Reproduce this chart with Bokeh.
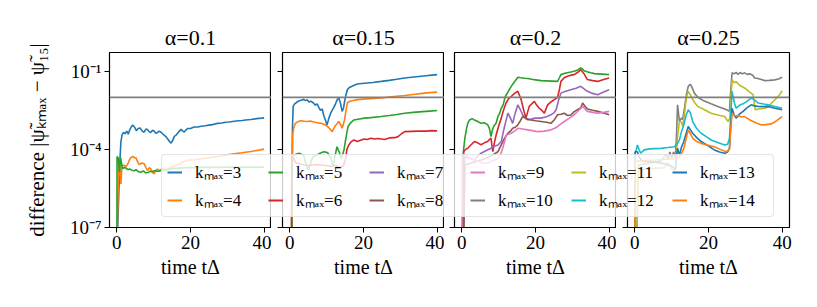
import numpy as np
from bokeh.plotting import figure
from bokeh.models import (Range1d, FixedTicker, Span, Legend, LegendItem,
                          GridBox, CustomJSTickFormatter)
from bokeh.embed import file_html
from bokeh.resources import INLINE

FONT = "Liberation Serif"

alpha_titles = ["α=0.1", "α=0.15", "α=0.2", "α=0.25"]
kmax_values = [3, 4, 5, 6, 7, 8, 9, 10, 11, 12, 13, 14]
kmax_colors = ["#1f77b4", "#ff7f0e", "#2ca02c", "#d62728", "#9467bd", "#8c564b",
               "#e377c2", "#7f7f7f", "#bcbd22", "#17becf", "#1f77b4", "#ff7f0e"]
threshold = 1e-2
x_ticks = [0, 20, 40]
y_ticks = [1e-7, 1e-4, 1e-1]

a1_k3_t = [0, 0.8, 1.1, 1.4, 1.8, 2.2, 2.7, 3.1, 3.5, 4.0, 4.3, 4.8, 5.3, 5.8, 6.3, 6.9, 7.4, 7.9, 8.3,
           8.8, 9.2, 9.7, 10.1, 10.6, 11.0, 11.5, 11.9, 12.4, 12.9, 13.4, 13.8, 14.3, 14.7, 15.2, 15.6,
           16.1, 16.5, 17.0, 17.4, 17.9, 18.3, 18.8, 19.2, 20.0, 21.0, 22.0, 22.9, 24.0, 25.0, 26.0,
           27.4, 28.5, 29.5, 30.5, 31.9, 33.0, 34.0, 35.0, 36.4, 37.5, 38.5, 39.3, 40.0]
a1_k3_log = [-8, -4.5, -3.7, -3.45, -3.35, -3.4, -3.3, -3.42, -3.25, -3.12, -3.06, -3.15, -3.28, -3.2,
             -3.18, -3.3, -3.34, -3.22, -3.24, -3.32, -3.35, -3.27, -3.29, -3.38, -3.36, -3.3, -3.33,
             -3.4, -3.46, -3.52, -3.6, -3.7, -3.76, -3.65, -3.5, -3.45, -3.38, -3.3, -3.23, -3.3, -3.33,
             -3.25, -3.2, -3.2, -3.14, -3.14, -3.11, -3.09, -3.07, -3.05, -3.0, -2.99, -2.96, -2.95,
             -2.92, -2.9, -2.89, -2.87, -2.85, -2.83, -2.81, -2.8, -2.79]
a1_k4_t = [0, 0.5, 0.8, 1.1, 1.4, 1.9, 2.5, 3.0, 3.6, 4.3, 4.8, 5.2, 5.7, 6.1, 6.8, 7.4, 7.9, 8.3, 8.8,
           9.2, 9.7, 10.1, 10.6, 11.0, 11.6, 12.4, 13.2, 13.8, 14.5, 15.2, 16.0, 17.0, 18.0, 19.3,
           21.0, 22.9, 25.0, 27.4, 29.5, 31.9, 34.0, 36.4, 38.0, 40.0]
a1_k4_log = [-8, -4.46, -4.7, -5.33, -4.6, -4.62, -4.65, -4.55, -4.35, -4.27, -4.33, -4.32, -4.5, -4.58,
             -4.52, -4.55, -4.7, -4.81, -4.7, -4.75, -4.88, -4.94, -4.8, -4.76, -4.85, -4.72, -4.8,
             -4.78, -4.68, -4.65, -4.6, -4.56, -4.48, -4.42, -4.4, -4.37, -4.32, -4.27, -4.22, -4.17,
             -4.13, -4.08, -4.04, -3.99]
a1_k5_t = [0, 0.05, 0.4, 0.7, 1.0, 1.3, 1.6, 2.0, 2.5, 3.0, 3.5, 4.0, 4.7, 5.2, 5.8, 6.5, 7.2, 7.8, 8.3,
           9.0, 9.6, 10.2, 11.0, 11.9, 13.0, 14.0, 15.0, 16.5, 18.0, 20.0, 24.0, 28.0, 32.0, 36.0, 40.0]
a1_k5_log = [-8, -4.27, -4.35, -4.88, -4.32, -4.55, -4.74, -4.7, -4.72, -4.78, -4.75, -4.8, -4.82, -4.78,
             -4.85, -4.88, -4.83, -4.9, -4.9, -4.84, -4.86, -4.82, -4.84, -4.8, -4.78, -4.76, -4.74,
             -4.72, -4.71, -4.7, -4.69, -4.69, -4.68, -4.68, -4.68]

a2_k3_t = [0, 0.5, 0.7, 0.9, 1.3, 1.8, 2.3, 2.8, 3.3, 3.7, 4.2, 4.7, 5.2, 5.7, 6.4, 6.9, 7.4, 7.9, 8.3,
           8.8, 9.2, 9.6, 10.1, 10.6, 11.1, 11.5, 11.9, 12.4, 12.9, 13.3, 13.7, 14.2, 14.6, 15.0, 15.6,
           16.2, 17.0, 18.3, 19.5, 21.0, 22.5, 24.8, 27.0, 29.0, 31.2, 33.0, 35.0, 37.0, 38.5, 40.0]
a2_k3_log = [-8, -7, -3.2, -2.35, -2.25, -2.2, -2.15, -2.12, -2.1, -2.08, -2.12, -2.1, -2.18, -2.15,
             -2.22, -2.3, -2.25, -2.4, -2.5, -2.45, -2.7, -2.85, -3.06, -2.8, -2.6, -2.5, -2.4, -2.25,
             -2.08, -2.03, -2.2, -2.54, -2.4, -2.05, -1.71, -1.62, -1.57, -1.49, -1.47, -1.45, -1.43,
             -1.39, -1.35, -1.31, -1.26, -1.23, -1.2, -1.17, -1.15, -1.13]
a2_k4_t = [0, 0.6, 0.75, 1.0, 1.5, 2.3, 3.0, 4.0, 5.0, 5.5, 6.5, 7.5, 8.5, 9.6, 10.5, 11.5, 12.3, 13.3,
           13.8, 14.2, 14.8, 15.6, 16.3, 17.2, 18.3, 20.0, 22.0, 24.8, 27.0, 29.0, 31.2, 33.5, 36.0,
           38.0, 40.0]
a2_k4_log = [-8, -7, -3.45, -3.2, -3.0, -2.93, -2.9, -2.92, -2.93, -2.91, -2.95, -2.98, -3.0, -3.06,
             -3.15, -3.32, -3.1, -2.93, -3.05, -3.19, -2.9, -2.22, -2.15, -2.12, -2.09, -2.07, -2.05,
             -2.03, -1.99, -1.96, -1.93, -1.89, -1.85, -1.82, -1.8]
a2_k5_t = [0, 0.55, 0.65, 1.2, 1.8, 2.5, 3.2, 3.7, 4.3, 5.0, 5.6, 6.2, 7.3, 8.2, 9.2, 10.2, 11.0, 11.7,
           12.2, 12.8, 13.4, 14.0, 14.7, 15.3, 15.8, 16.5, 17.4, 18.5, 20.2, 22.0, 24.8, 27.0, 29.0,
           31.2, 33.5, 36.0, 38.0, 40.0]
a2_k5_log = [-8, -7, -4.28, -4.22, -4.18, -4.15, -4.2, -4.22, -4.5, -4.8, -4.55, -4.3, -4.22, -4.15,
             -4.09, -4.12, -4.28, -4.67, -4.3, -3.9, -4.1, -4.35, -4.02, -3.5, -3.12, -2.98, -2.87,
             -2.84, -2.8, -2.78, -2.74, -2.7, -2.66, -2.61, -2.58, -2.55, -2.53, -2.51]
a2_k6_t = [0.4, 0.5, 0.9, 1.5, 2.5, 4.0, 5.5, 7.0, 8.5, 10.0, 11.5, 12.5, 13.5, 14.5, 15.1, 15.5, 16.0,
           16.7, 17.4, 18.3, 19.2, 20.2, 21.0, 22.0, 23.0, 24.0, 25.7, 27.0, 28.5, 29.4, 30.3, 31.2,
           33.0, 35.0, 37.0, 38.5, 40.0]
a2_k6_log = [-8, -4.28, -4.3, -4.5, -4.55, -4.6, -4.62, -4.58, -4.6, -4.62, -4.66, -4.62, -4.7, -4.65,
             -4.4, -4.0, -3.83, -3.7, -3.64, -3.7, -3.65, -3.6, -3.62, -3.57, -3.6, -3.58, -3.62,
             -3.56, -3.55, -3.51, -3.4, -3.32, -3.31, -3.3, -3.3, -3.28, -3.29]

a3_k5_t = [0.2, 0.4, 0.8, 1.2, 1.6, 2.1, 2.8, 3.4, 4.2, 5.2, 6.0, 7.0, 7.5, 7.9, 8.3, 8.7, 9.3, 9.8,
           10.3, 10.7, 11.2, 11.8, 12.5, 13.4, 14.3, 15.2, 16.0, 17.0, 17.9, 19.0, 20.0, 21.5, 23.0,
           24.5, 26.0, 26.5, 26.9, 28.0, 29.6, 30.5, 31.5, 32.3, 32.8, 33.2, 34.0, 35.0, 36.0, 37.0,
           38.0, 39.0, 40.0]
a3_k5_log = [-7.5, -4.1, -3.6, -3.25, -3.0, -2.87, -2.82, -2.87, -2.92, -3.0, -2.98, -3.05, -3.2, -3.51,
             -3.25, -3.1, -3.0, -2.74, -2.6, -2.42, -2.3, -1.97, -1.8, -1.58, -1.4, -1.23, -1.25, -1.27,
             -1.28, -1.31, -1.33, -1.36, -1.37, -1.38, -1.39, -1.25, -1.13, -1.08, -1.03, -1.0, -0.95,
             -0.87, -0.92, -0.98, -1.02, -1.06, -1.09, -1.1, -1.11, -1.12, -1.13]
a3_k6_t = [0.3, 0.5, 1.0, 1.6, 2.3, 3.4, 4.3, 5.2, 6.1, 7.0, 7.5, 7.9, 8.4, 8.9, 9.3, 10.0, 10.7, 11.3,
           12.0, 12.7, 13.4, 14.3, 15.2, 16.1, 16.8, 17.4, 17.9, 18.3, 19.0, 19.7, 20.3, 21.0, 21.7,
           22.4, 23.3, 24.2, 25.1, 26.0, 26.5, 26.9, 27.8, 28.7, 29.6, 30.5, 31.4, 32.3, 33.2, 34.1,
           35.5, 36.9, 38.5, 40.0]
a3_k6_log = [-7.5, -4.09, -4.0, -3.96, -3.85, -3.7, -3.75, -3.82, -3.75, -3.7, -3.62, -3.57, -4.09,
             -3.7, -3.45, -3.1, -2.8, -2.5, -2.22, -2.05, -1.97, -1.85, -1.77, -2.09, -2.5, -2.8, -2.55,
             -2.35, -2.25, -2.16, -2.3, -2.42, -2.5, -2.61, -2.29, -2.18, -2.09, -2.0, -1.7, -1.39,
             -1.25, -1.19, -1.15, -1.13, -1.05, -0.94, -1.1, -1.32, -1.36, -1.39, -1.32, -1.26]
a3_k7_t = [0.5, 0.8, 2.0, 3.4, 4.3, 5.2, 6.5, 7.9, 8.8, 9.8, 10.7, 11.3, 11.8, 12.5, 13.2, 13.8, 14.5,
           15.2, 15.8, 16.5, 17.2, 17.9, 19.0, 20.0, 21.5, 23.0, 24.2, 25.0, 25.6, 26.3, 26.9, 28.0,
           29.6, 31.0, 32.3, 33.2, 34.1, 35.5, 36.9, 38.5, 40.0]
a3_k7_log = [-7.5, -4.28, -4.35, -4.41, -4.25, -4.15, -4.05, -3.96, -3.88, -3.83, -3.7, -3.3, -3.0,
             -2.61, -2.8, -3.0, -2.6, -2.29, -2.45, -2.67, -2.8, -2.87, -2.83, -2.8, -2.8, -2.75, -2.67,
             -2.6, -2.48, -2.1, -1.84, -1.78, -1.71, -1.65, -1.58, -1.68, -1.77, -1.85, -1.9, -1.8, -1.71]
a3_k8_t = [0.5, 0.8, 3.0, 5.5, 8.0, 9.8, 10.8, 11.6, 12.5, 13.2, 13.8, 14.5, 15.2, 15.9, 16.5, 17.5,
           18.8, 20.0, 21.5, 23.0, 24.2, 25.2, 26.0, 27.0, 27.8, 28.7, 29.6, 30.5, 31.4, 32.3, 32.8,
           33.5, 34.1, 35.5, 36.9, 38.5, 40.0]
a3_k8_log = [-7.5, -4.6, -4.5, -4.4, -4.25, -4.09, -3.8, -3.57, -3.38, -3.3, -3.19, -3.15, -3.06, -2.9,
             -2.74, -2.82, -2.87, -2.9, -2.93, -2.96, -3.0, -2.85, -2.67, -2.65, -2.61, -2.7, -2.68,
             -2.55, -2.48, -2.4, -2.22, -2.35, -2.45, -2.5, -2.54, -2.6, -2.67]
a3_k9_t = [0, 0.05, 0.5, 1.0, 1.6, 2.5, 3.4, 4.8, 6.1, 7.5, 8.7, 9.8, 10.5, 11.1, 11.6, 12.0, 12.7, 13.4,
           14.3, 15.2, 16.5, 17.9, 19.2, 20.6, 22.4, 24.2, 25.1, 26.0, 26.9, 27.8, 29.2, 30.5, 31.6,
           32.3, 32.8, 33.5, 34.1, 35.5, 36.9, 38.5, 40.0]
a3_k9_log = [-8, -4.22, -4.2, -4.22, -4.28, -4.35, -4.41, -4.48, -4.54, -4.5, -4.42, -4.35, -4.2, -3.96,
             -3.7, -3.45, -3.42, -3.38, -3.3, -3.19, -3.22, -3.25, -3.28, -3.32, -3.3, -3.25, -3.2,
             -3.12, -3.02, -2.93, -2.8, -2.67, -2.52, -2.42, -2.35, -2.45, -2.54, -2.58, -2.61, -2.58,
             -2.54]

a4_k10_t = [0.5, 1.0, 3.0, 5.0, 7.0, 8.5, 9.0, 9.5, 10.0, 10.5, 11.0, 11.3, 11.6, 12.1, 12.6, 13.0,
            13.5, 14.0, 14.5, 15.0, 15.3, 16.2, 17.1, 18.5, 20.7, 22.5, 24.4, 25.2, 25.7, 26.0, 26.4,
            27.0, 27.5, 28.0, 28.6, 29.2, 29.8, 30.5, 31.2, 32.0, 32.5, 33.5, 35.3, 36.5, 38.0, 39.0,
            40.0]
a4_k10_log = [-7.5, -4.6, -4.55, -4.5, -4.45, -4.2, -4.4, -4.1, -4.35, -4.1, -4.3, -3.5, -2.29, -2.93,
              -2.8, -2.85, -2.4, -1.9, -1.58, -1.5, -1.55, -1.85, -2.0, -2.12, -2.25, -2.35, -2.45,
              -2.5, -2.54, -1.8, -1.06, -1.1, -1.04, -1.12, -1.05, -1.1, -1.06, -1.12, -1.1, -1.15,
              -1.26, -1.28, -1.36, -1.35, -1.33, -1.3, -1.23]
a4_k11_t = [0.5, 1.0, 4.0, 8.0, 9.0, 10.0, 11.0, 11.6, 12.1, 12.6, 13.0, 13.6, 14.0, 14.5, 15.3, 16.2,
            17.1, 18.5, 20.7, 22.5, 24.4, 25.3, 25.8, 26.4, 27.0, 27.5, 28.5, 29.8, 31.0, 32.1, 32.7,
            33.5, 35.3, 36.5, 37.1, 38.5, 39.3, 40.0]
a4_k11_log = [-7.5, -4.8, -4.75, -4.7, -4.5, -4.75, -4.84, -3.5, -2.93, -2.95, -3.12, -2.5, -2.0, -1.77,
              -1.97, -2.2, -2.35, -2.45, -2.61, -2.68, -2.74, -2.93, -2.8, -1.32, -1.45, -1.4, -1.55,
              -1.64, -1.78, -1.9, -2.48, -2.45, -2.42, -2.35, -2.22, -2.03, -1.9, -1.75]
a4_k12_t = [0, 0.4, 0.7, 1.1, 1.6, 2.5, 4.0, 5.5, 7.1, 9.0, 10.7, 11.5, 12.1, 12.7, 13.3, 13.9, 14.5,
            15.1, 15.7, 16.8, 18.0, 19.5, 20.7, 22.5, 24.4, 25.2, 25.7, 26.0, 26.4, 27.0, 27.5, 28.5,
            29.4, 30.5, 31.6, 32.5, 33.5, 35.0, 36.2, 38.0, 40.0]
a4_k12_log = [-4.22, -4.0, -3.83, -4.0, -4.15, -4.02, -3.98, -3.97, -3.96, -3.93, -3.9, -3.8, -3.64,
              -3.3, -3.06, -2.7, -2.48, -2.6, -2.93, -3.2, -3.38, -3.52, -3.64, -3.74, -3.83, -3.8,
              -3.57, -2.8, -1.77, -2.2, -2.42, -2.3, -2.25, -2.15, -2.03, -2.1, -2.22, -2.26, -2.29,
              -2.35, -2.42]
a4_k13_t = [0, 0.05, 0.7, 1.2, 2.0, 4.0, 6.0, 8.0, 10.0, 11.0, 11.3, 11.6, 12.1, 12.7, 13.3, 13.9,
            14.5, 15.1, 15.7, 16.8, 18.0, 19.8, 21.6, 23.0, 24.4, 25.2, 25.7, 26.0, 26.4, 27.0, 27.5,
            28.4, 29.4, 30.5, 31.6, 32.5, 33.5, 35.0, 36.2, 38.0, 40.0]
a4_k13_log = [-8, -4.09, -4.09, -4.3, -4.45, -4.47, -4.5, -4.55, -4.65, -4.75, -4.3, -3.96, -4.22, -3.9,
              -3.7, -3.4, -3.12, -3.25, -3.38, -3.55, -3.7, -3.85, -4.02, -4.1, -4.15, -4.1, -3.96,
              -3.2, -2.42, -2.7, -2.8, -2.65, -2.54, -2.4, -2.29, -2.33, -2.35, -2.36, -2.35, -2.42,
              -2.48]
a4_k14_t = [0, 0.05, 1.0, 3.0, 5.3, 8.0, 11.2, 12.1, 12.7, 13.3, 13.9, 14.5, 15.1, 15.7, 16.8, 18.0,
            19.8, 21.6, 23.2, 24.8, 25.3, 25.7, 26.0, 26.4, 27.2, 28.0, 29.0, 29.8, 31.0, 32.1, 33.2,
            34.4, 35.5, 37.1, 38.5, 40.0]
a4_k14_log = [-8, -4.47, -4.45, -4.42, -4.41, -4.39, -4.35, -4.3, -4.15, -3.96, -3.6, -3.25, -3.4,
              -3.57, -3.7, -3.77, -3.84, -3.9, -4.0, -4.09, -4.05, -3.96, -3.3, -2.61, -2.72, -2.7,
              -2.76, -2.74, -2.85, -2.93, -3.0, -3.06, -3.05, -3.02, -2.9, -2.74]

panels = [
    [(3, a1_k3_t, a1_k3_log), (4, a1_k4_t, a1_k4_log), (5, a1_k5_t, a1_k5_log)],
    [(3, a2_k3_t, a2_k3_log), (4, a2_k4_t, a2_k4_log), (5, a2_k5_t, a2_k5_log),
     (6, a2_k6_t, a2_k6_log)],
    [(5, a3_k5_t, a3_k5_log), (6, a3_k6_t, a3_k6_log), (7, a3_k7_t, a3_k7_log),
     (8, a3_k8_t, a3_k8_log), (9, a3_k9_t, a3_k9_log)],
    [(10, a4_k10_t, a4_k10_log), (11, a4_k11_t, a4_k11_log), (12, a4_k12_t, a4_k12_log),
     (13, a4_k13_t, a4_k13_log), (14, a4_k14_t, a4_k14_log)],
]

SUP = CustomJSTickFormatter(code="""
const e = Math.round(Math.log10(tick));
const m = {'-1':'⁻¹','-2':'⁻²','-3':'⁻³','-4':'⁻⁴','-5':'⁻⁵','-6':'⁻⁶','-7':'⁻⁷'};
return '10' + m[String(e)];
""")
BLANK = CustomJSTickFormatter(code="return '';")

FRAME_W, FRAME_H = 162, 175
TOP, BOTTOM = 52, 64
lefts = [109, 11, 10, 11]
rights = [0, 0, 0, 12]

figs = []
for i, series in enumerate(panels):
    w = lefts[i] + FRAME_W + rights[i]
    p = figure(width=w, height=TOP + FRAME_H + BOTTOM,
               x_range=Range1d(-2, 42), y_range=Range1d(1e-7, 10 ** -0.28),
               y_axis_type="log", output_backend="svg", toolbar_location=None,
               min_border_left=lefts[i], min_border_right=rights[i],
               min_border_top=TOP, min_border_bottom=BOTTOM,
               background_fill_color="white", border_fill_color="white")
    p.title.text = alpha_titles[i]
    p.title.align = "center"
    p.title.text_font = FONT
    p.title.text_font_size = "22px"
    p.title.text_font_style = "normal"
    p.title.text_color = "black"
    p.title.standoff = 6
    p.grid.visible = False
    p.outline_line_color = "black"
    p.outline_line_width = 1.2
    p.outline_line_alpha = 1

    for ax in (p.xaxis[0], p.yaxis[0]):
        ax.major_tick_out = 5
        ax.major_tick_in = 0
        ax.minor_tick_out = 0
        ax.minor_tick_in = 0
        ax.axis_line_color = "black"
        ax.major_tick_line_color = "black"
        ax.major_label_text_font = FONT
        ax.major_label_text_font_size = "19px"
        ax.major_label_text_color = "black"
        ax.axis_label_text_font = FONT
        ax.axis_label_text_font_size = "20px"
        ax.axis_label_text_font_style = "normal"
        ax.axis_label_text_color = "black"

    p.xaxis.ticker = FixedTicker(ticks=x_ticks)
    p.xaxis.major_label_standoff = 3
    p.xaxis.axis_label = "time tΔ"
    p.xaxis.axis_label_standoff = 4

    p.yaxis.ticker = FixedTicker(ticks=y_ticks, minor_ticks=[])
    if i == 0:
        p.yaxis.formatter = SUP
        p.yaxis.major_label_standoff = 3
        p.yaxis.axis_label = "difference |ψ̃ₖₘₐₓ − ψ̃₁₅|"
        p.yaxis.axis_label_text_font_size = "21px"
        p.yaxis.axis_label_standoff = 18
    else:
        p.yaxis.formatter = BLANK
        p.yaxis.major_label_standoff = 0

    p.add_layout(Span(location=threshold, dimension="width", line_color="#808080",
                      line_width=1.8))
    for k, t, lg in series:
        c = kmax_colors[kmax_values.index(k)]
        p.line(t, 10 ** np.array(lg, dtype=float), line_color=c, line_width=1.6)
    figs.append(p)

total_w = sum(lefts) + sum(rights) + 4 * FRAME_W
total_h = TOP + FRAME_H + BOTTOM

# transparent overlay figure carrying the shared legend (its frame is aligned with the panels)
pl = figure(width=total_w, height=total_h, x_range=Range1d(0, 1), y_range=Range1d(0, 1),
            output_backend="svg", toolbar_location=None, min_border=0,
            x_axis_location=None, y_axis_location=None,
            background_fill_alpha=0, border_fill_alpha=0, outline_line_color=None)
pl.grid.visible = False
items = []
for k, c in zip(kmax_values, kmax_colors):
    r = pl.line([-5, -4], [-5, -4], line_color=c, line_width=2)
    items.append(LegendItem(label="kₘₐₓ=%d" % k, renderers=[r]))
legend = Legend(items=items, location=(52, 10), orientation="vertical", nrows=2,
                glyph_width=15, glyph_height=20, label_height=20, label_width=68,
                label_standoff=13, spacing=5, padding=5, margin=0,
                label_text_font=FONT, label_text_font_size="17px", label_text_color="black",
                background_fill_color="white", background_fill_alpha=0.8,
                border_line_color="#cccccc", border_line_width=1)
if "border_radius" in Legend.properties():
    legend.border_radius = 4
pl.add_layout(legend, "center")

grid = GridBox(children=[(figs[0], 0, 0), (figs[1], 0, 1), (figs[2], 0, 2), (figs[3], 0, 3),
                         (pl, 0, 0, 1, 4)], spacing=0)

open("out.html", "w").write(file_html(grid, INLINE, title="kmax convergence"))
